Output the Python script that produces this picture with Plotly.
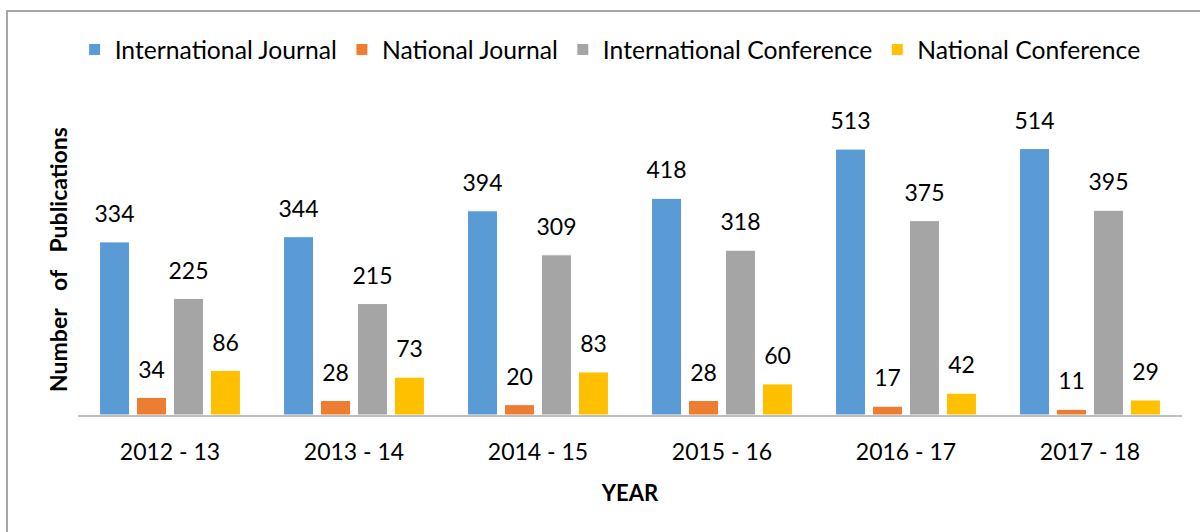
import plotly.graph_objects as go

years = ["2012 - 13", "2013 - 14", "2014 - 15", "2015 - 16", "2016 - 17", "2017 - 18"]
intl_journal = [334, 344, 394, 418, 513, 514]
natl_journal = [34, 28, 20, 28, 17, 11]
intl_conf = [225, 215, 309, 318, 375, 395]
natl_conf = [86, 73, 83, 60, 42, 29]

series = [
    ("International Journal", intl_journal, "#5b9bd5"),
    ("National Journal", natl_journal, "#ed7d31"),
    ("International Conference", intl_conf, "#a5a5a5"),
    ("National Conference", natl_conf, "#ffc000"),
]

FONT = "Lato"
BARGAP = 0.196

fig = go.Figure()
for name, vals, color in series:
    fig.add_trace(go.Bar(
        name=name, x=years, y=vals, offsetgroup=name, alignmentgroup="g",
        marker=dict(color=color, line=dict(color="white", width=1)),
        hoverinfo="x+y",
    ))
# value labels (grouped scatter text aligned with the grouped bars)
for name, vals, color in series:
    fig.add_trace(go.Scatter(
        x=years, y=vals, mode="markers+text", orientation="v",
        offsetgroup=name, alignmentgroup="g",
        marker=dict(size=21, opacity=0, color=color),
        text=[str(v) for v in vals], textposition="top center",
        textfont=dict(size=23, color="black", family=FONT),
        showlegend=False, hoverinfo="skip", cliponaxis=False,
    ))

fig.update_layout(
    width=1200, height=532,
    margin=dict(l=78, r=18, t=104, b=117),
    paper_bgcolor="white", plot_bgcolor="white",
    barmode="group", bargap=BARGAP, bargroupgap=0.19,
    scattermode="group", scattergap=BARGAP,
    font=dict(family=FONT, size=22, color="black"),
    showlegend=True,
    legend=dict(orientation="h", x=0.482, xanchor="center", y=1.174, yanchor="middle",
                font=dict(size=24.7, family=FONT), traceorder="normal"),
    xaxis=dict(showline=True, linecolor="#bfbfbf", linewidth=2, ticks="",
               tickfont=dict(size=23), showgrid=False, ticklabelstandoff=15,
               title=dict(text="<b>YEAR</b>", font=dict(size=22), standoff=22)),
    yaxis=dict(range=[0, 600], showticklabels=False, showgrid=False, zeroline=False,
               showline=False, ticks="",
               title=dict(text="<b>Number\u2003of\u2003Publications</b>", font=dict(size=23), standoff=2)),
    shapes=[dict(type="rect", xref="paper", yref="paper",
                 x0=-0.0643, x1=1.2, y0=-0.8, y1=1.299,
                 line=dict(color="#a6a6a6", width=2), fillcolor="rgba(0,0,0,0)")],
)

fig.write_html("out.html", config={"displayModeBar": False},
               post_script="document.body.style.margin='0';")
